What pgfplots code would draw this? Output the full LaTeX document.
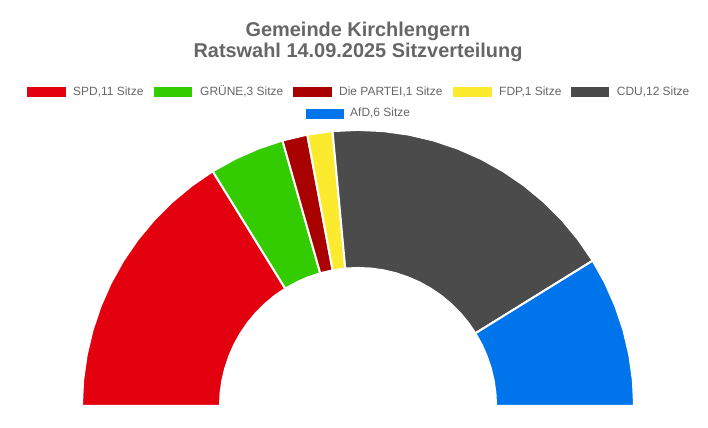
\documentclass[border=0pt]{standalone}
\usepackage{fontspec}
\setmainfont{Liberation Sans}
\usepackage{pgfplots}
\pgfplotsset{compat=1.18}
\definecolor{spd}{HTML}{E3000F}
\definecolor{gruene}{HTML}{33CC00}
\definecolor{partei}{HTML}{A90000}
\definecolor{fdp}{HTML}{FBEA2E}
\definecolor{cdu}{HTML}{4B4B4B}
\definecolor{afd}{HTML}{0075EB}
\definecolor{txt}{HTML}{666666}
\begin{document}
\begin{tikzpicture}
\path[use as bounding box] (0bp,0bp) rectangle (708bp,428bp);
% Title
\node[anchor=base,text=txt,font=\fontsize{20}{24}\selectfont\bfseries,inner sep=0] at (358bp,391.3bp) {Gemeinde Kirchlengern};
\node[anchor=base,text=txt,font=\fontsize{20}{24}\selectfont\bfseries,inner sep=0] at (358bp,370.7bp) {Ratswahl 14.09.2025 Sitzverteilung};
% Legend
\begin{scope}[font=\fontsize{12}{14}\selectfont]
\fill[spd] (27bp,331.3bp) rectangle (65.5bp,341bp);
\node[anchor=base west,inner sep=0,text=txt] at (73bp,332.3bp) {SPD,11 Sitze};
\fill[gruene] (154.3bp,331.3bp) rectangle (191.7bp,341bp);
\node[anchor=base west,inner sep=0,text=txt] at (200bp,332.3bp) {GRÜNE,3 Sitze};
\fill[partei] (293.3bp,331.3bp) rectangle (331.7bp,341bp);
\node[anchor=base west,inner sep=0,text=txt] at (339bp,332.3bp) {Die PARTEI,1 Sitze};
\fill[fdp] (453.3bp,331.3bp) rectangle (491.7bp,341bp);
\node[anchor=base west,inner sep=0,text=txt] at (499bp,332.3bp) {FDP,1 Sitze};
\fill[cdu] (570.7bp,331.3bp) rectangle (609bp,341bp);
\node[anchor=base west,inner sep=0,text=txt] at (616.7bp,332.3bp) {CDU,12 Sitze};
\fill[afd] (306bp,309.3bp) rectangle (344bp,319bp);
\node[anchor=base west,inner sep=0,text=txt] at (350bp,311bp) {AfD,6 Sitze};
\end{scope}
\begin{axis}[
  at={(83bp,22bp)}, anchor=south west,
  scale only axis, width=550bp, height=275bp,
  xmin=-1, xmax=1, ymin=0, ymax=1,
  enlargelimits=false,
  hide axis, clip=false,
  every axis plot/.append style={draw=white, line width=2bp, line join=round},
]
% seat boundaries: 34 seats over 180 degrees (angle, radius)
% SPD, 11 seats
\addplot[fill=spd, data cs=polar] coordinates {
(180,1.004) (174.7059,1.004) (169.4118,1.004) (164.1176,1.004) (158.8235,1.004) (153.5294,1.004) (148.2353,1.004) (142.9412,1.004) (137.6471,1.004) (132.3529,1.004) (127.0588,1.004) (121.7647,1.004)
(121.7647,0.502) (127.0588,0.502) (132.3529,0.502) (137.6471,0.502) (142.9412,0.502) (148.2353,0.502) (153.5294,0.502) (158.8235,0.502) (164.1176,0.502) (169.4118,0.502) (174.7059,0.502) (180,0.502)
} -- cycle;
% GRUENE, 3 seats
\addplot[fill=gruene, data cs=polar] coordinates {
(121.7647,1.004) (116.4706,1.004) (111.1765,1.004) (105.8824,1.004)
(105.8824,0.502) (111.1765,0.502) (116.4706,0.502) (121.7647,0.502)
} -- cycle;
% Die PARTEI, 1 seat
\addplot[fill=partei, data cs=polar] coordinates {
(105.8824,1.004) (100.5882,1.004)
(100.5882,0.502) (105.8824,0.502)
} -- cycle;
% FDP, 1 seat
\addplot[fill=fdp, data cs=polar] coordinates {
(100.5882,1.004) (95.2941,1.004)
(95.2941,0.502) (100.5882,0.502)
} -- cycle;
% CDU, 12 seats
\addplot[fill=cdu, data cs=polar] coordinates {
(95.2941,1.004) (90,1.004) (84.7059,1.004) (79.4118,1.004) (74.1176,1.004) (68.8235,1.004) (63.5294,1.004) (58.2353,1.004) (52.9412,1.004) (47.6471,1.004) (42.3529,1.004) (37.0588,1.004) (31.7647,1.004)
(31.7647,0.502) (37.0588,0.502) (42.3529,0.502) (47.6471,0.502) (52.9412,0.502) (58.2353,0.502) (63.5294,0.502) (68.8235,0.502) (74.1176,0.502) (79.4118,0.502) (84.7059,0.502) (90,0.502) (95.2941,0.502)
} -- cycle;
% AfD, 6 seats
\addplot[fill=afd, data cs=polar] coordinates {
(31.7647,1.004) (26.4706,1.004) (21.1765,1.004) (15.8824,1.004) (10.5882,1.004) (5.2941,1.004) (0,1.004)
(0,0.502) (5.2941,0.502) (10.5882,0.502) (15.8824,0.502) (21.1765,0.502) (26.4706,0.502) (31.7647,0.502)
} -- cycle;
\end{axis}
\end{tikzpicture}
\end{document}
